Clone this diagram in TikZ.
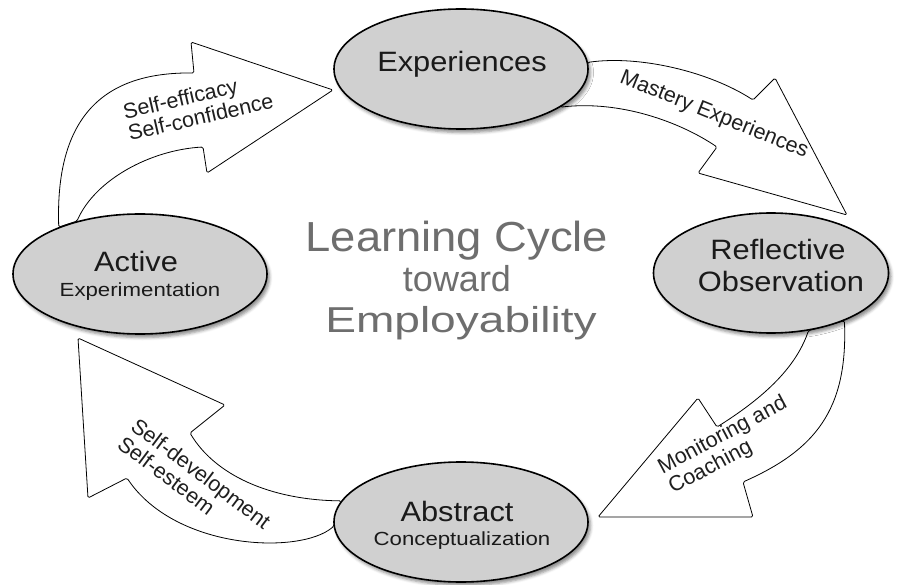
\documentclass[tikz,border=0pt]{standalone}
\usepackage{fontspec}
\setmainfont{Liberation Sans}
\usetikzlibrary{shapes.geometric,shadows.blur,backgrounds}
\definecolor{ovgray}{HTML}{D0D0D0}
\definecolor{ovtext}{HTML}{1A1A1A}
\definecolor{titlegray}{HTML}{6E6E6E}
\newcommand{\fsz}[1]{\fontsize{#1}{#1}\selectfont}

\begin{document}
\begin{tikzpicture}[x=1pt, y=-1pt,
  phase/.style={ellipse, draw=black, line width=1.6pt, fill=ovgray, minimum width=254pt, minimum height=120pt, inner sep=0pt,
    blur shadow={shadow xshift=2.5pt, shadow yshift=-3.5pt, shadow blur radius=3pt, shadow opacity=45}},
  phasetext/.style={anchor=base, text=ovtext, inner sep=0pt, font=\fsz{28}, xscale=1.1},
  phasesub/.style={anchor=base, text=ovtext, inner sep=0pt, font=\fsz{19}, xscale=1.17},
  cyclearrow/.style={draw=black, line width=0.8pt, fill=white, line join=round, rounded corners=1.5pt},
  arrowtext/.style={text=black!88, inner sep=0pt, font=\fontsize{21.5}{22.5}\selectfont, align=left},
  titletext/.style={anchor=base, text=titlegray, inner sep=0pt}]

  \useasboundingbox (0,0) rectangle (902,585);

  \node[phase] (exp) at (461,69) {};
  \node[phase, minimum width=235pt] (refl) at (771,273) {};
  \node[phase] (abst) at (461,522) {};
  \node[phase] (actv) at (140,274) {};

  \node[phasetext] (exp-l) at (462,72) {Experiences};
  \node[phasetext] (refl-l) at (778,260) {Reflective};
  \node[phasetext] (refl-s) at (781,291) {Observation};
  \node[phasetext] (abst-l) at (457,521) {Abstract};
  \node[phasesub] (abst-s) at (462,545) {Conceptualization};
  \node[phasetext] (actv-l) at (136,272) {Active};
  \node[phasesub] (actv-s) at (140,297) {Experimentation};

  \begin{scope}[on background layer]
    \draw[cyclearrow] (actv.150) .. controls (55,110) and (110,72) .. (194,73) -- (191,42) -- (333,90) -- (207,173) -- (203,147)
      .. controls (150,150) and (95,180) .. (actv.140) -- cycle;
    \draw[cyclearrow] (exp.3) .. controls (640,55) and (710,72) .. (753,100) -- (775,78) -- (847,215) -- (698,173) -- (717,147)
      .. controls (680,122) and (620,100) .. (exp.-21) -- cycle;
    \draw[cyclearrow] (refl.-33.5) .. controls (848,410) and (815,450) .. (743,482) -- (753,517) -- (598,517) -- (698,398) -- (717,427)
      .. controls (760,400) and (795,370) .. (refl.-57) -- cycle;
    \draw[cyclearrow] (abst.182) .. controls (300,555) and (175,550) .. (127,478) -- (88,498) -- (78,338) -- (225,405) -- (190,433)
      .. controls (215,475) and (270,500) .. (abst.170) -- cycle;
  \end{scope}

  % base west sits on the last line
  \node[arrowtext, anchor=base west, rotate=13] (lab-eff) at (130,141) {Self-efficacy\\Self-confidence};
  \node[arrowtext, anchor=base, rotate=-22] (lab-mast) at (712,120) {Mastery Experiences};
  \node[arrowtext, anchor=base west, rotate=28] (lab-mon) at (673,494) {Monitoring and\\Coaching};
  \node[arrowtext, anchor=base west, rotate=-37] (lab-dev) at (116,447) {Self-development\\Self-esteem};

  \node[titletext, font=\fsz{42}, xscale=1.08] (title) at (457,252) {Learning Cycle};
  \node[titletext, font=\fsz{36}] (toward) at (457,291) {toward};
  \node[titletext, font=\fsz{36}, xscale=1.28] (employ) at (461,332) {Employability};
\end{tikzpicture}
\end{document}
